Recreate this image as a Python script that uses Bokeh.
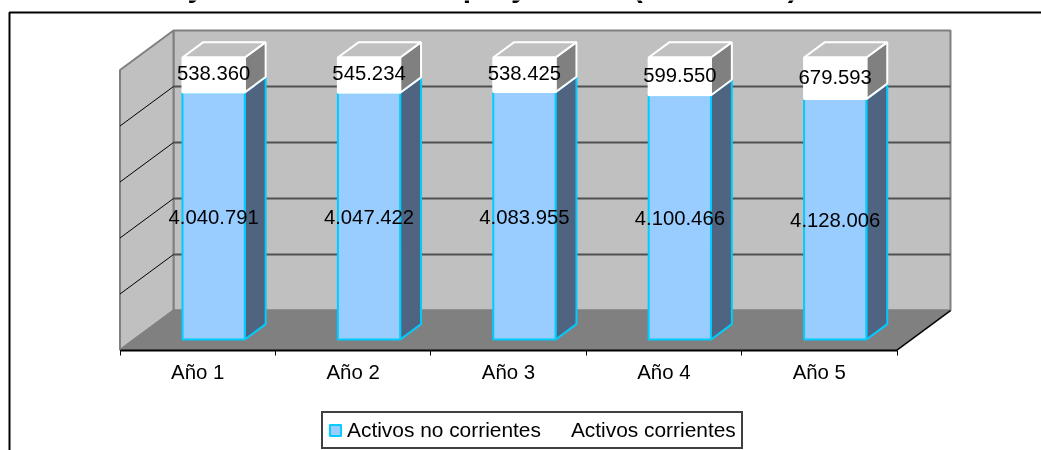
from bokeh.plotting import figure
from bokeh.embed import file_html
from bokeh.resources import INLINE
from bokeh.core.properties import value
from bokeh.models import Range1d, FixedTicker, Label, Legend, LegendItem, BoxAnnotation

# ---- data ----
categories = ["Año 1", "Año 2", "Año 3", "Año 4", "Año 5"]
activos_no_corrientes = [4040791, 4047422, 4083955, 4100466, 4128006]
activos_corrientes = [538360, 545234, 538425, 599550, 679593]
labels_no_corrientes = ["4.040.791", "4.047.422", "4.083.955", "4.100.466", "4.128.006"]
labels_corrientes = ["538.360", "545.234", "538.425", "599.550", "679.593"]
value_ticks = [20, 40, 60, 80]
series_names = ["Activos no corrientes", "Activos corrientes"]
title_text = "Proyección de activos proyectado (en miles €)"

# ---- layout / 3D projection ----
W, H = 1041, 450
CAT_PX, PCT_PX = 155.4, 2.8       # pixels per category / per percent
X0_PX, Y0_PX = 197.2, 339.0       # pixel of category 0 and of 0 %
DX, DY = 53.5 / CAT_PX, 39.5 / PCT_PX  # full depth of the box, in data units
D_FRONT = 0.266                   # depth of the bars' front plane
BAR_LEFT, BAR_W, BAR_D = -0.098, 0.401, 0.39
BAR_TOP = 100.7
FONT = value("Liberation Sans")
BLUE, CYAN, DARK, GREY, WALL = "#99CCFF", "#00CCFF", "#4E6480", "#808080", "#C0C0C0"

def pr(x, d, y):
    """Project a (category, depth, percent) point onto the chart plane."""
    return x + DX * d, y + DY * (d - D_FRONT)

def poly(points):
    pts = [pr(*q) for q in points]
    return [a for a, _ in pts], [b for _, b in pts]

p = figure(
    width=W, height=H, toolbar_location=None, output_backend="svg", min_border=0,
    x_range=Range1d(-X0_PX / CAT_PX, (W - X0_PX) / CAT_PX),
    y_range=Range1d((Y0_PX - H) / PCT_PX, Y0_PX / PCT_PX),
    y_axis_location=None, x_axis_location="below",
    background_fill_color="white", border_fill_color="white",
)
p.styles = {"position": "fixed", "left": "0px", "top": "0px"}
p.grid.visible = False
p.outline_line_color = None

XL, XR = -0.5, len(categories) - 0.5

def add_poly(points, fill, line, width=2):
    xs, ys = poly(points)
    return p.patch(xs, ys, fill_color=fill, line_color=line, line_width=width)

# walls and floor
add_poly([(XL, 1, 0), (XR, 1, 0), (XR, 1, 100), (XL, 1, 100)], WALL, GREY)
add_poly([(XL, 0, 0), (XL, 1, 0), (XL, 1, 100), (XL, 0, 100)], WALL, GREY)
add_poly([(XL, 0, 0), (XR, 0, 0), (XR, 1, 0), (XL, 1, 0)], GREY, GREY)

for t in value_ticks:
    xs, ys = poly([(XL, 1, t), (XR, 1, t)])
    p.line(xs, ys, line_color="#505050", line_width=2)
    xs, ys = poly([(XL, 0, t), (XL, 1, t)])
    p.line(xs, ys, line_color="black", line_width=1)
xs, ys = poly([(XR, 0, 0), (XR, 1, 0)])
p.line(xs, ys, line_color="black", line_width=1.5)

# bars: 100 % stacked
front_blue = None
front_white = None
d0, d1 = D_FRONT, D_FRONT + BAR_D
for i, (a, b) in enumerate(zip(activos_no_corrientes, activos_corrientes)):
    share = a / (a + b) * 100
    lx, rx = i + BAR_LEFT, i + BAR_LEFT + BAR_W        # front face, as drawn
    lx0, rx0 = lx - DX * D_FRONT, rx - DX * D_FRONT    # same edges before projection
    # lower series
    add_poly([(rx0, d0, 0), (rx0, d1, 0), (rx0, d1, share), (rx0, d0, share)], DARK, CYAN)
    front_blue = p.quad(left=[lx], right=[rx], bottom=[0], top=[share], fill_color=BLUE, line_color=CYAN, line_width=2)
    # upper series
    add_poly([(rx0, d0, share), (rx0, d1, share), (rx0, d1, BAR_TOP), (rx0, d0, BAR_TOP)], GREY, "white")
    add_poly([(lx0, d0, BAR_TOP), (rx0, d0, BAR_TOP), (rx0, d1, BAR_TOP), (lx0, d1, BAR_TOP)], WALL, "white")
    front_white = p.quad(left=[lx], right=[rx], bottom=[share], top=[BAR_TOP], fill_color="white", line_color="white", line_width=2)
    cx = (lx + rx) / 2
    p.text([cx], [share / 2 - 0.4], text=[labels_no_corrientes[i]], text_font=FONT, text_font_size="20.3px",
           text_align="center", text_baseline="middle", text_color="black")
    p.text([cx], [(share + BAR_TOP) / 2 + 0.6], text=[labels_corrientes[i]], text_font=FONT, text_font_size="20.3px",
           text_align="center", text_baseline="middle", text_color="black")

# category axis on the front edge of the floor
ax = p.xaxis[0]
ax.fixed_location = pr(0, 0, 0)[1]
ax.bounds = (XL, XR)
ax.ticker = FixedTicker(ticks=list(range(len(categories))),
                        minor_ticks=[i - 0.5 for i in range(len(categories) + 1)])
ax.major_label_overrides = {i: c for i, c in enumerate(categories)}
ax.major_tick_line_color = None
ax.major_tick_in = 0
ax.major_tick_out = 0
ax.minor_tick_in = 0
ax.minor_tick_out = 5
ax.minor_tick_line_color = "black"
ax.axis_line_color = "black"
ax.axis_line_width = 2
ax.major_label_standoff = 6
ax.major_label_text_font = "Liberation Sans"
ax.major_label_text_font_size = "20.4px"
ax.major_label_text_color = "black"

# chart title, cut by the top of the picture in the reference
p.add_layout(Label(x=137, y=H + 14, x_units="screen", y_units="screen", text=title_text,
                   text_font="Liberation Sans", text_font_style="bold", text_font_size="30px",
                   text_baseline="alphabetic", text_color="black"))

# chart-area border
p.add_layout(BoxAnnotation(left=9, right=W + 20, top=H - 12, bottom=-20,
                           left_units="screen", right_units="screen", top_units="screen", bottom_units="screen",
                           fill_color=None, fill_alpha=0, line_color="black", line_alpha=1, line_width=2))

legend = Legend(
    items=[LegendItem(label=series_names[0], renderers=[front_blue]),
           LegendItem(label=series_names[1], renderers=[front_white])],
    orientation="horizontal", location=(321, 1), label_text_font="Liberation Sans",
    label_text_font_size="20.9px", label_text_color="black", glyph_width=14, glyph_height=14,
    label_standoff=5, spacing=11, padding=5, margin=0, border_line_color="#404040", border_line_alpha=1,
    border_line_width=2, background_fill_color="white", background_fill_alpha=1,
)
p.add_layout(legend, "center")

open("out.html", "w").write(file_html(p, INLINE))
